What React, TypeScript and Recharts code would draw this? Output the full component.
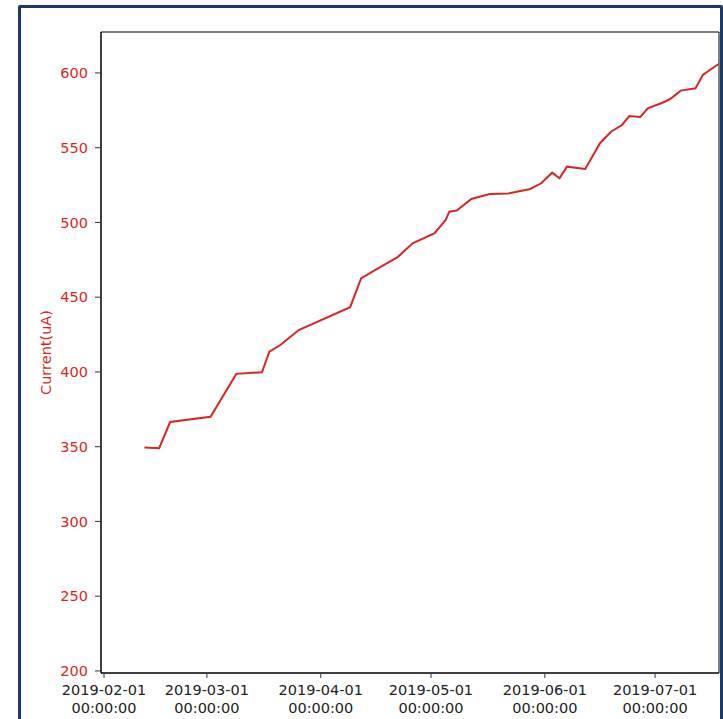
import { LineChart, Line, XAxis, YAxis, ReferenceArea } from "recharts";

// readings taken off the reference plot
const dates = [
  "2019-02-12", "2019-02-16", "2019-02-19", "2019-03-02", "2019-03-09", "2019-03-16",
  "2019-03-18", "2019-03-21", "2019-03-26", "2019-04-09", "2019-04-12", "2019-04-22",
  "2019-04-26", "2019-05-02", "2019-05-05", "2019-05-06", "2019-05-08", "2019-05-12",
  "2019-05-17", "2019-05-22", "2019-05-28", "2019-05-31", "2019-06-03", "2019-06-05",
  "2019-06-07", "2019-06-12", "2019-06-16", "2019-06-19", "2019-06-22", "2019-06-24",
  "2019-06-27", "2019-06-29", "2019-07-03", "2019-07-05", "2019-07-08", "2019-07-12",
  "2019-07-14", "2019-07-17", "2019-07-19",
];

const current = [
  349.4, 349, 366.5, 370, 398.7, 399.8,
  413.6, 418, 428, 443.3, 462.7, 477,
  486, 492.8, 501.7, 507.2, 508, 515.7,
  519, 519.3, 522.4, 526.2, 533.3, 529.6,
  537.3, 535.8, 553, 560.7, 565.2, 571.2,
  570.6, 576.4, 580.1, 582.4, 588.2, 589.7,
  598.7, 603.8, 607,
];

const xTicks = ["2019-02-01", "2019-03-01", "2019-04-01", "2019-05-01", "2019-06-01", "2019-07-01"];
const yTicks = [200, 250, 300, 350, 400, 450, 500, 550, 600];

const DAY = 86400000;
const feb1 = Date.parse("2019-02-01");
const xMin = feb1 - 0.82 * DAY;
const xMax = feb1 + 167.4 * DAY;
const yMin = 198.6;
const yMax = 627.4;

const data = dates.map((d, i) => ({ t: Date.parse(d), current: current[i] }));

const RED = "#d62728";
const FONT = "DejaVu Sans, sans-serif";

function DateTick(props: any) {
  const { x, y, payload } = props;
  const d = new Date(payload.value).toISOString().slice(0, 10);
  return (
    <text x={x} y={y} textAnchor="middle" fontFamily={FONT} fontSize={14.5} fill="#222">
      <tspan x={x} y={y + 14}>{d}</tspan>
      <tspan x={x} y={y + 31.5}>00:00:00</tspan>
    </text>
  );
}

export default function App() {
  return (
    <div style={{ position: "absolute", left: 0, top: 0, width: 723, height: 719, overflow: "hidden", background: "#fff" }}>
      <div
        style={{
          position: "absolute",
          left: 18,
          top: 5,
          width: 705,
          height: 800,
          boxSizing: "border-box",
          border: "3px solid #1f3864",
          borderRadius: 2,
        }}
      />
      <div style={{ position: "absolute", left: 0, top: 0 }}>
        <LineChart
          width={723}
          height={719}
          data={data}
          margin={{ top: 32, right: 4, bottom: 0, left: 0 }}
        >
          <XAxis
            dataKey="t"
            type="number"
            domain={[xMin, xMax]}
            allowDataOverflow
            ticks={xTicks.map((d) => Date.parse(d))}
            tick={<DateTick />}
            tickSize={5}
            tickMargin={3}
            height={46}
            axisLine={{ stroke: "#000" }}
            tickLine={{ stroke: "#333" }}
            interval={0}
          />
          <YAxis
            type="number"
            domain={[yMin, yMax]}
            allowDataOverflow
            ticks={yTicks}
            width={101}
            tickSize={6}
            tickMargin={7}
            axisLine={{ stroke: "#000" }}
            tickLine={{ stroke: "#333" }}
            tick={{ fill: RED, fontSize: 14.5, fontFamily: FONT }}
            label={{
              value: "Current(uA)",
              angle: -90,
              position: "center",
              dx: -5,
              fill: RED,
              fontSize: 14.5,
              fontFamily: FONT,
            }}
            interval={0}
          />
          <ReferenceArea
            x1={xMin}
            x2={xMax}
            y1={yMin}
            y2={yMax}
            fill="none"
            stroke="#000"
            strokeWidth={1}
            ifOverflow="visible"
          />
          <Line
            type="linear"
            dataKey="current"
            stroke={RED}
            strokeWidth={2}
            dot={false}
            isAnimationActive={false}
          />
        </LineChart>
      </div>
    </div>
  );
}
